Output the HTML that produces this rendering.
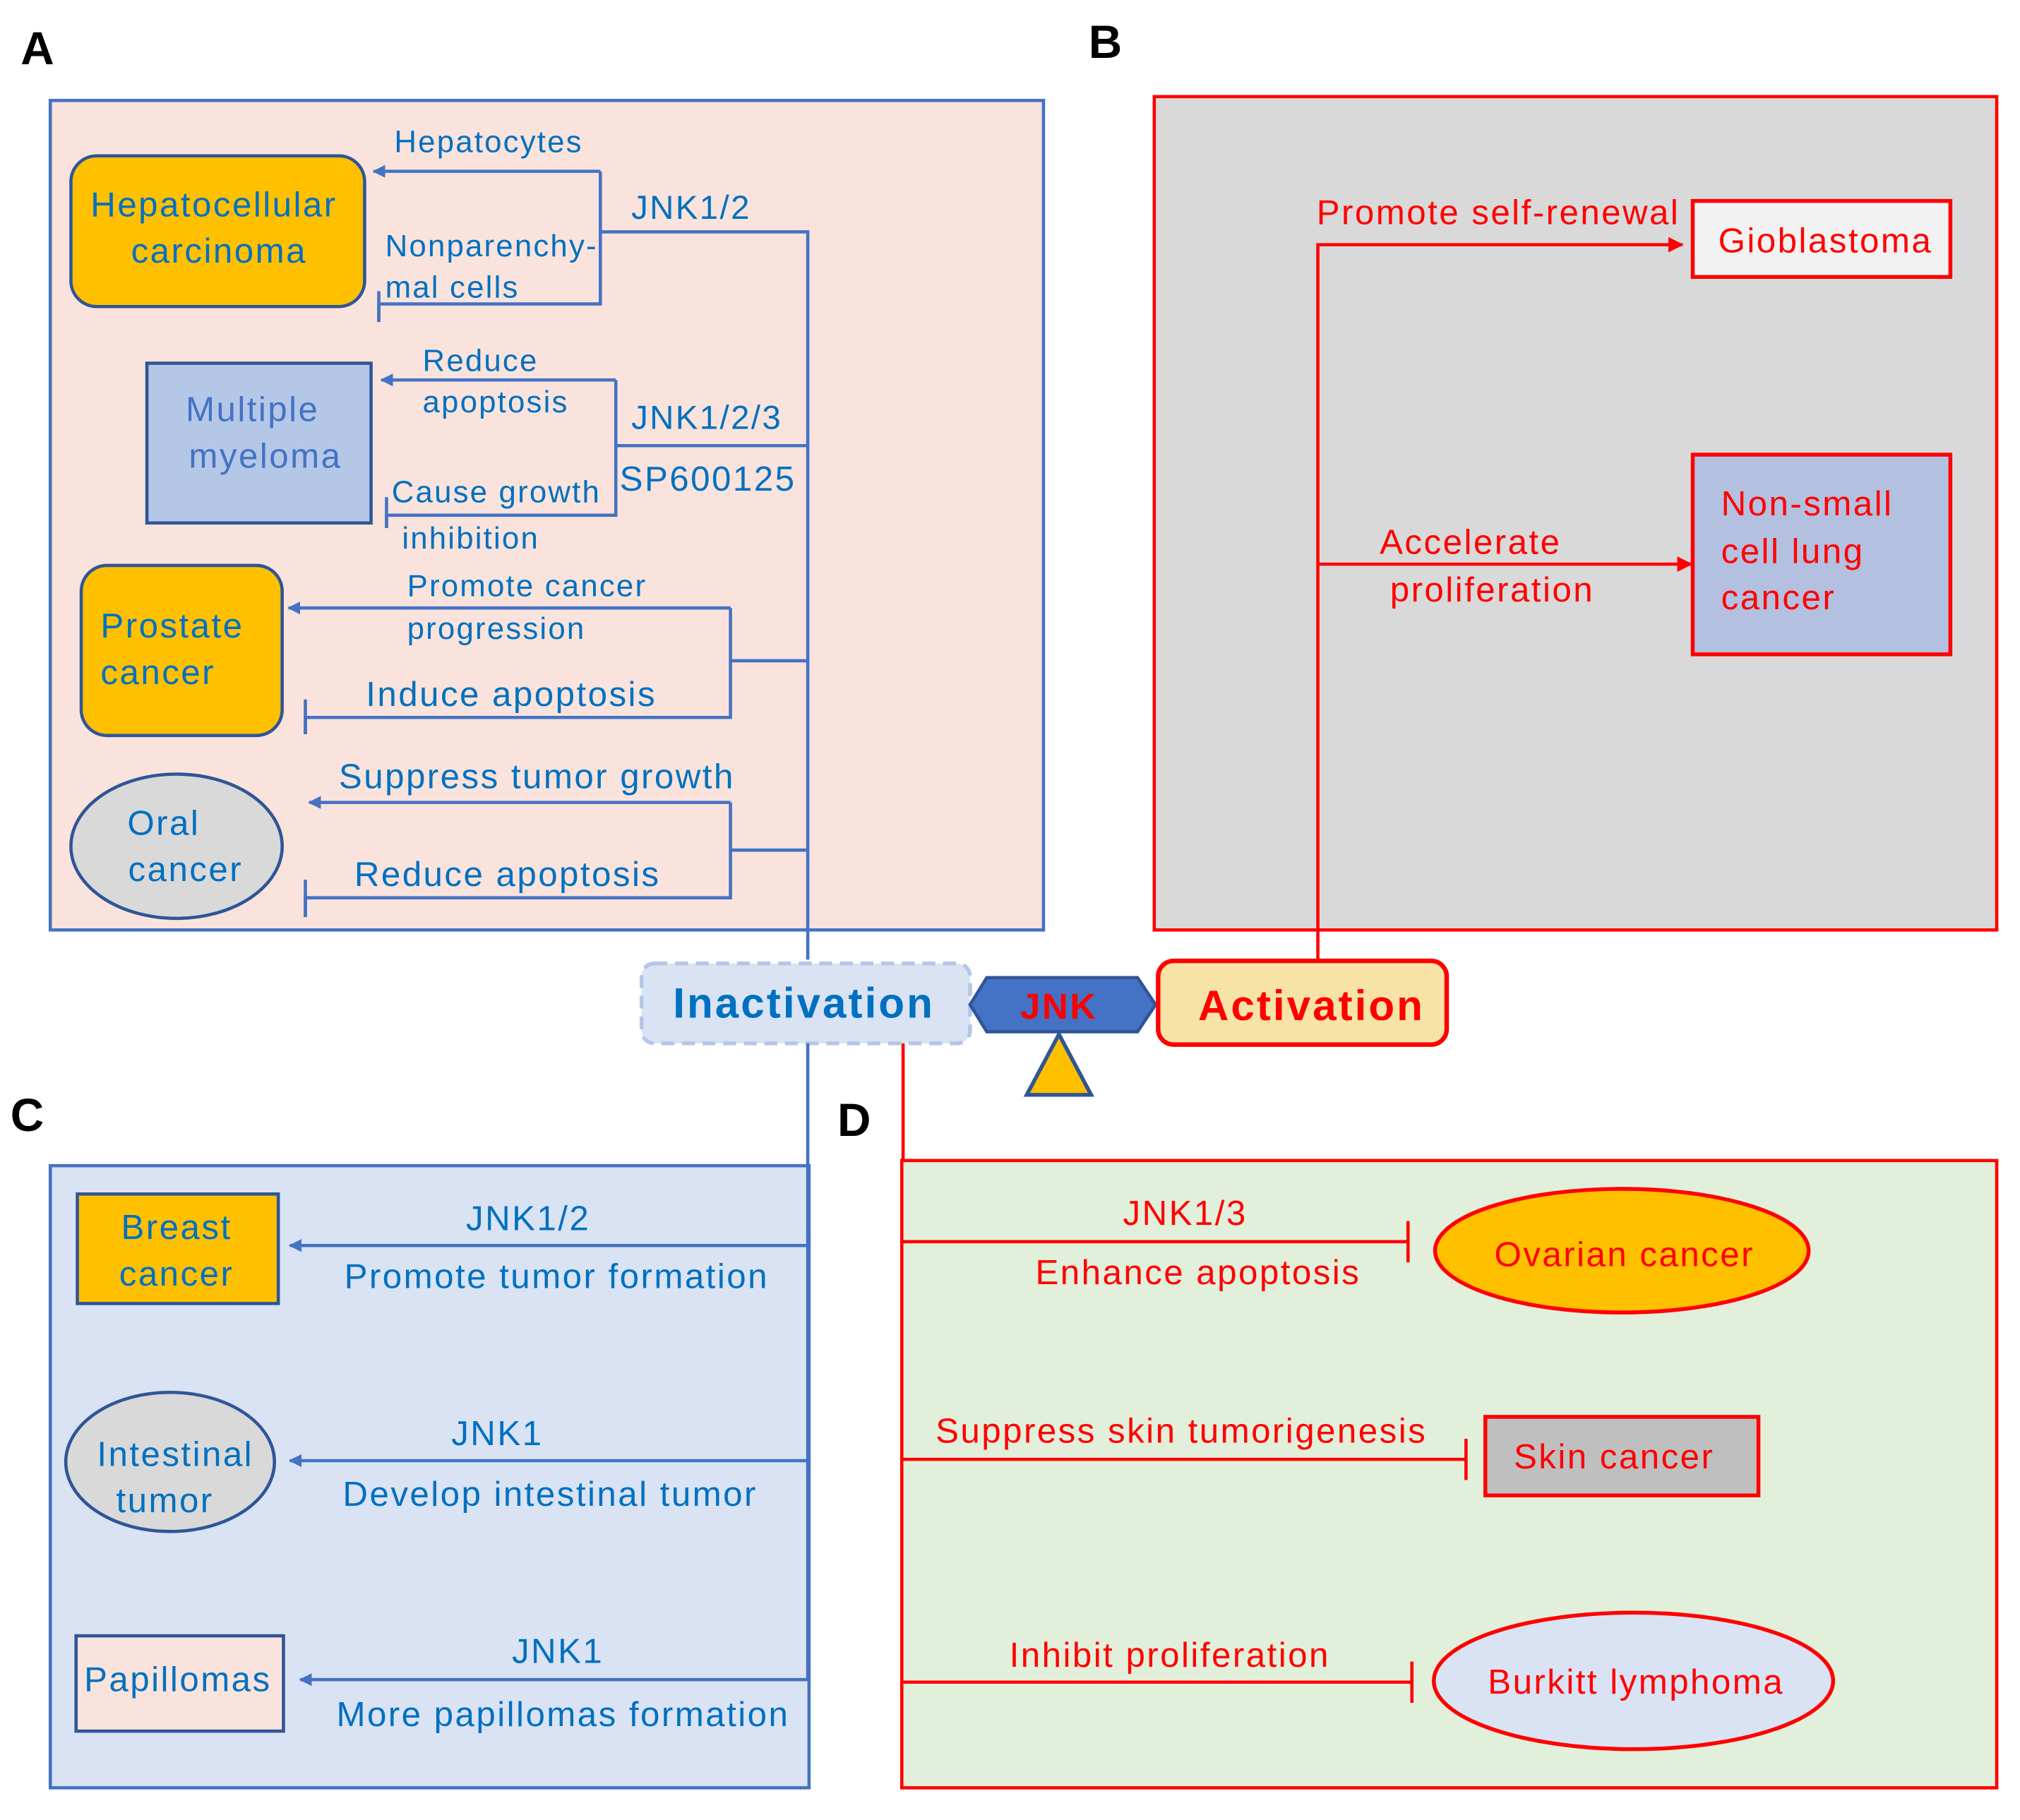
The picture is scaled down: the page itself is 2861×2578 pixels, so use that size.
<!DOCTYPE html>
<html><head><meta charset="utf-8"><style>
html,body{margin:0;padding:0;background:#fff}
svg{display:block}
text{font-family:"Liberation Sans",Arial,sans-serif;letter-spacing:0.05em}
</style></head><body>
<svg width="2861" height="2578" viewBox="0 0 1568 1413" xmlns="http://www.w3.org/2000/svg">
<defs>
<marker id="ab" markerWidth="10" markerHeight="10" refX="9" refY="5" orient="auto" markerUnits="userSpaceOnUse"><path d="M0,0 L10,5 L0,10 z" fill="#4472c4"/></marker>
<marker id="ar" markerWidth="12" markerHeight="12" refX="11" refY="6" orient="auto" markerUnits="userSpaceOnUse"><path d="M0,0 L12,6 L0,12 z" fill="#ff0000"/></marker>
</defs>
<rect width="1568" height="1413" fill="#fff"/>
<text x="16" y="50" font-size="36" font-weight="bold">A</text>
<text x="845" y="45" font-size="36" font-weight="bold">B</text>
<text x="8" y="878" font-size="36" font-weight="bold">C</text>
<text x="650" y="882" font-size="36" font-weight="bold">D</text>

<rect x="39" y="78" width="771" height="644" fill="#f9e3dc" stroke="#4472c4" stroke-width="2.5"/>
<g fill="none" stroke="#4472c4" stroke-width="2.5">
<path d="M627,745 V180 H466"/>
<path d="M466,133 V236 H294 V250"/>
<path d="M466,133 H290" marker-end="url(#ab)"/>
<path d="M627,346 H478"/>
<path d="M478,295 V400 H300 V410"/>
<path d="M478,295 H296" marker-end="url(#ab)"/>
<path d="M627,513 H567"/>
<path d="M567,472 V557 H237 V570"/>
<path d="M567,472 H224" marker-end="url(#ab)"/>
<path d="M627,660 H567"/>
<path d="M567,623 V697 H237 V712"/>
<path d="M567,623 H240" marker-end="url(#ab)"/>
<path d="M294,226 V250 M300,386 V410 M237,543 V570 M237,683 V712"/>
</g>
<rect x="55" y="121" width="228" height="117" rx="20" fill="#ffc000" stroke="#2f5597" stroke-width="2.5"/>
<text x="166" y="168" font-size="27" fill="#0070c0" text-anchor="middle">Hepatocellular</text>
<text x="170" y="204" font-size="27" fill="#0070c0" text-anchor="middle">carcinoma</text>
<rect x="114" y="282" width="174" height="124" fill="#b4c7e7" stroke="#2f5597" stroke-width="2.5"/>
<text x="196" y="327" font-size="27" fill="#4472c4" text-anchor="middle">Multiple</text>
<text x="206" y="363" font-size="27" fill="#4472c4" text-anchor="middle">myeloma</text>
<rect x="63" y="439" width="156" height="132" rx="20" fill="#ffc000" stroke="#2f5597" stroke-width="2.5"/>
<text x="78" y="495" font-size="27" fill="#0070c0">Prostate</text>
<text x="78" y="531" font-size="27" fill="#0070c0">cancer</text>
<ellipse cx="137" cy="657" rx="82" ry="56" fill="#d9d9d9" stroke="#2f5597" stroke-width="2.5"/>
<text x="127" y="648" font-size="27" fill="#0070c0" text-anchor="middle">Oral</text>
<text x="144" y="684" font-size="27" fill="#0070c0" text-anchor="middle">cancer</text>
<g font-size="24" fill="#0070c0">
<text x="306" y="118">Hepatocytes</text>
<text x="299" y="199">Nonparenchy-</text>
<text x="299" y="231">mal cells</text>
<text x="490" y="170" font-size="26">JNK1/2</text>
<text x="328" y="288">Reduce</text>
<text x="328" y="320">apoptosis</text>
<text x="490" y="333" font-size="26">JNK1/2/3</text>
<text x="481" y="381" font-size="27">SP600125</text>
<text x="304" y="390">Cause growth</text>
<text x="312" y="426">inhibition</text>
<text x="316" y="463">Promote cancer</text>
<text x="316" y="496">progression</text>
<text x="284" y="548" font-size="27">Induce apoptosis</text>
<text x="263" y="612" font-size="27">Suppress tumor growth</text>
<text x="275" y="688" font-size="27">Reduce apoptosis</text>
</g>

<rect x="896" y="75" width="654" height="647" fill="#d9d9d9" stroke="#ff0000" stroke-width="2.5"/>
<g fill="none" stroke="#ff0000" stroke-width="2.5">
<path d="M1023,745 V190 H1306" marker-end="url(#ar)"/>
<path d="M1023,438 H1313" marker-end="url(#ar)"/>
</g>
<rect x="1314" y="156" width="200" height="59" fill="#f2f2f2" stroke="#ff0000" stroke-width="3"/>
<text x="1417" y="196" font-size="27" fill="#ff0000" text-anchor="middle">Gioblastoma</text>
<rect x="1314" y="353" width="200" height="155" fill="#b4c0e0" stroke="#ff0000" stroke-width="3"/>
<g font-size="27" fill="#ff0000">
<text x="1336" y="400">Non-small</text>
<text x="1336" y="437">cell lung</text>
<text x="1336" y="473">cancer</text>
<text x="1022" y="174">Promote self-renewal</text>
<text x="1071" y="430">Accelerate</text>
<text x="1079" y="467">proliferation</text>
</g>

<rect x="498" y="748" width="255" height="62" rx="10" fill="#dae3f3" stroke="#b4c7e7" stroke-width="3" stroke-dasharray="10,6"/>
<text x="624" y="790" font-size="33" font-weight="bold" fill="#0070c0" text-anchor="middle">Inactivation</text>
<path d="M766,759 H883 L897,780 L883,801 H766 L753,780 z" fill="#4472c4" stroke="#2f5597" stroke-width="2.5"/>
<text x="822" y="791" font-size="28" font-weight="bold" fill="#ff0000" text-anchor="middle">JNK</text>
<path d="M822,803 L847,850 L797,850 z" fill="#ffc000" stroke="#2f5597" stroke-width="3"/>
<rect x="899" y="746" width="224" height="65" rx="12" fill="#f8e3a6" stroke="#ff0000" stroke-width="3.5"/>
<text x="1018" y="792" font-size="33" font-weight="bold" fill="#ff0000" text-anchor="middle">Activation</text>

<rect x="39" y="905" width="589" height="483" fill="#dae3f3" stroke="#4472c4" stroke-width="2.5"/>
<g fill="none" stroke="#4472c4" stroke-width="2.5">
<path d="M627,810 V1305"/>
<path d="M627,967 H225" marker-end="url(#ab)"/>
<path d="M627,1134 H225" marker-end="url(#ab)"/>
<path d="M627,1304 H233" marker-end="url(#ab)"/>
</g>
<rect x="60" y="927" width="156" height="85" fill="#ffc000" stroke="#2f5597" stroke-width="2.5"/>
<text x="137" y="962" font-size="27" fill="#0070c0" text-anchor="middle">Breast</text>
<text x="137" y="998" font-size="27" fill="#0070c0" text-anchor="middle">cancer</text>
<ellipse cx="132" cy="1135" rx="81" ry="54" fill="#d9d9d9" stroke="#2f5597" stroke-width="2.5"/>
<text x="136" y="1138" font-size="27" fill="#0070c0" text-anchor="middle">Intestinal</text>
<text x="128" y="1174" font-size="27" fill="#0070c0" text-anchor="middle">tumor</text>
<rect x="59" y="1270" width="161" height="74" fill="#f9e3dc" stroke="#2f5597" stroke-width="2.5"/>
<text x="138" y="1313" font-size="27" fill="#0070c0" text-anchor="middle">Papillomas</text>
<g font-size="27" fill="#0070c0" text-anchor="middle">
<text x="410" y="955">JNK1/2</text>
<text x="432" y="1000">Promote tumor formation</text>
<text x="386" y="1122">JNK1</text>
<text x="427" y="1169">Develop intestinal tumor</text>
<text x="433" y="1291">JNK1</text>
<text x="437" y="1340">More papillomas formation</text>
</g>

<rect x="700" y="901" width="850" height="487" fill="#e2efda" stroke="#ff0000" stroke-width="2.5"/>
<g fill="none" stroke="#ff0000" stroke-width="2.5">
<path d="M701,810 V901"/>
<path d="M701,964 H1093 M1093,948 V980"/>
<path d="M701,1133 H1138 M1138,1117 V1149"/>
<path d="M701,1306 H1096 M1096,1290 V1322"/>
</g>
<ellipse cx="1259" cy="971" rx="145" ry="48" fill="#ffc000" stroke="#ff0000" stroke-width="3"/>
<text x="1261" y="983" font-size="27" fill="#ff0000" text-anchor="middle">Ovarian cancer</text>
<rect x="1153" y="1100" width="212" height="61" fill="#bfbfbf" stroke="#ff0000" stroke-width="3"/>
<text x="1253" y="1140" font-size="27" fill="#ff0000" text-anchor="middle">Skin cancer</text>
<ellipse cx="1268" cy="1305" rx="155" ry="53" fill="#dae3f3" stroke="#ff0000" stroke-width="3"/>
<text x="1270" y="1315" font-size="27" fill="#ff0000" text-anchor="middle">Burkitt lymphoma</text>
<g font-size="27" fill="#ff0000" text-anchor="middle">
<text x="920" y="951">JNK1/3</text>
<text x="930" y="997">Enhance apoptosis</text>
<text x="917" y="1120">Suppress skin tumorigenesis</text>
<text x="908" y="1294">Inhibit proliferation</text>
</g>
</svg>
</body></html>
